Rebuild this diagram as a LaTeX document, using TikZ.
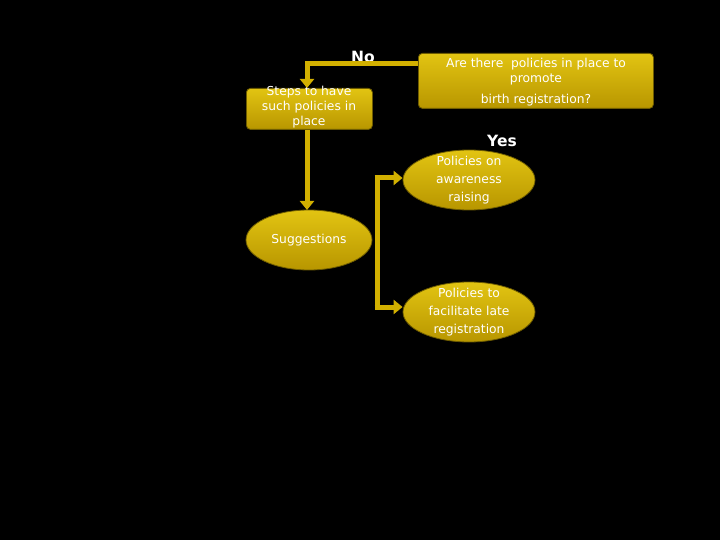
\documentclass[tikz,border=0pt]{standalone}
\usepackage{fontspec}
\setmainfont{DejaVu Sans}
\usetikzlibrary{arrows.meta,shapes.geometric}
\definecolor{gold}{HTML}{D2B000}
\definecolor{goldtop}{HTML}{E2C412}
\definecolor{goldbot}{HTML}{B89600}
\definecolor{golddark}{HTML}{6E5C00}
\tikzset{
  boxstyle/.style={draw=golddark, line width=0.8pt, rounded corners=4pt, top color=goldtop, bottom color=goldbot, inner sep=0pt},
  boxtext/.style={text=white, align=center, font=\fontsize{12.3}{15}\selectfont, inner sep=0pt},
  elltext/.style={text=white, align=center, font=\fontsize{12.3}{18}\selectfont, inner sep=0pt},
  ellstyle/.style={ellipse, draw=golddark, line width=0.8pt, top color=goldtop, bottom color=goldbot, inner sep=0pt},
  conn/.style={draw=gold, line width=5pt, -{Triangle[length=9pt,width=14pt]}},
  lbl/.style={text=white, font=\bfseries\fontsize{15.5}{18}\selectfont}
}
\begin{document}
\begin{tikzpicture}[x=1pt,y=-1pt]
\fill[black] (0,0) rectangle (720,540);
\useasboundingbox (0,0) rectangle (720,540);
% top-right question box
\node[boxstyle, minimum width=235pt, minimum height=55pt, anchor=north west] (q) at (418,53) {};
\node[boxtext] (qt) at (536,71.5) {Are there\ \ policies in place to\\promote};
\node[boxtext] (qt2) at (536,100) {birth registration?};
% left steps box
\node[boxstyle, minimum width=126pt, minimum height=41pt, anchor=north west] (s) at (246,88) {};
\node[boxtext] (st) at (309,107.5) {Steps to have\\such policies in\\place};
% suggestions ellipse
\node[ellstyle, minimum width=126pt, minimum height=60pt] (g) at (309,240) {};
\node[elltext] (gt) at (309,240) {Suggestions};
% option ellipses
\node[ellstyle, minimum width=132pt, minimum height=60pt] (e1) at (469,180) {};
\node[elltext] (e1t) at (469,180) {Policies on\\awareness\\raising};
\node[ellstyle, minimum width=132pt, minimum height=60pt] (e2) at (469,312) {};
\node[elltext] (e2t) at (469,312) {Policies to\\facilitate late\\registration};
% labels
\node[lbl] (no) at (363,57) {No};
\node[lbl] (yes) at (502,141) {Yes};
% connectors
\coordinate (qa) at (418,64);
\coordinate (qb) at (307,64);
\draw[conn] (qa) -- (qb) -- (qb |- s.north);
\draw[conn] (s.south -| 307,0) -- (307,210);
\coordinate (bt) at (377,178);
\coordinate (bb) at (377,307);
\draw[draw=gold, line width=5pt] (bt) -- (bb);
\draw[conn] (bt) ++(-2.5,0) -- (e1.west |- bt);
\draw[conn] (bb) ++(-2.5,0) -- (e2.west |- bb);
\end{tikzpicture}
\end{document}
